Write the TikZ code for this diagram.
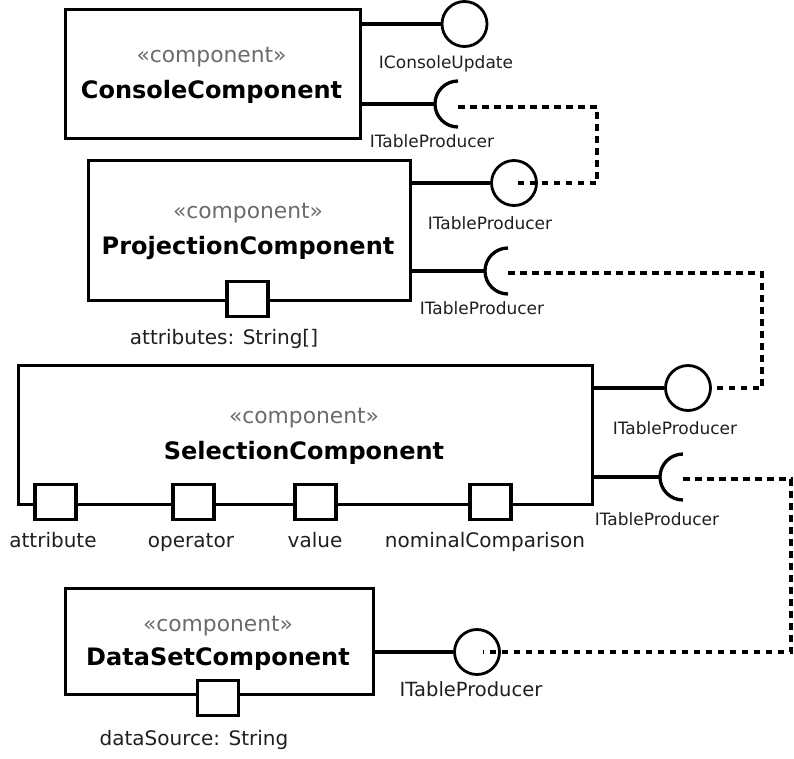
\documentclass[tikz,border=0pt]{standalone}
\usepackage{fontspec}
\setmainfont{DejaVu Sans}
\begin{document}
\begin{tikzpicture}[x=1pt,y=-1pt,
  comp/.style={draw,line width=3.3pt,rectangle,inner sep=0pt,anchor=north west},
  stereo/.style={anchor=base,inner sep=0pt,text=black!58,font=\fontsize{21.8}{26}\selectfont},
  cname/.style={anchor=base,inner sep=0pt,font=\fontsize{24}{28}\selectfont\bfseries},
  port/.style={draw,line width=3.3pt,fill=white,rectangle,minimum width=41pt,minimum height=35pt,inner sep=0pt},
  plabel/.style={anchor=base,inner sep=0pt,text=black!88,font=\fontsize{20}{24}\selectfont},
  ilabel/.style={anchor=base,inner sep=0pt,text=black!88,font=\fontsize{17}{20}\selectfont},
  biglabel/.style={anchor=base,inner sep=0pt,text=black!88,font=\fontsize{19.5}{23}\selectfont},
  lolli/.style={draw,line width=2.8pt,circle,minimum size=45pt,inner sep=0pt},
  conn/.style={line width=3.3pt},
  sock/.style={line width=3.3pt},
  dep/.style={line width=3.3pt,dash pattern=on 6.5pt off 5.5pt}
]
\useasboundingbox (0,0) rectangle (794,758);

% ConsoleComponent
\node[comp,minimum width=295pt,minimum height=129pt] (cc) at (64,8) {};
\node[stereo] (ccs) at (211.5,62) {«component»};
\node[cname] (ccn) at (211.5,98) {ConsoleComponent};

% ProjectionComponent
\node[comp,minimum width=322pt,minimum height=140pt] (pc) at (87,159) {};
\node[stereo] (pcs) at (248,218.5) {«component»};
\node[cname] (pcn) at (248,254.5) {ProjectionComponent};
\node[port] (pp) at (247.5,299) {};
\node[plabel] (ppl) at (224,344) {attributes: String[]};

% SelectionComponent
\node[comp,minimum width=574pt,minimum height=139pt] (sc) at (17,364) {};
\node[stereo] (scs) at (304,423) {«component»};
\node[cname] (scn) at (304,459) {SelectionComponent};
\node[port] (sp1) at (55.5,502) {};
\node[port] (sp2) at (193.5,502) {};
\node[port] (sp3) at (315.5,502) {};
\node[port] (sp4) at (490.5,502) {};
\node[plabel] (sp1l) at (53,547) {attribute};
\node[plabel] (sp2l) at (191,547) {operator};
\node[plabel] (sp3l) at (315,547) {value};
\node[plabel] (sp4l) at (485,547) {nominalComparison};

% DataSetComponent
\node[comp,minimum width=308pt,minimum height=106pt] (dc) at (64,587) {};
\node[stereo] (dcs) at (218,631) {«component»};
\node[cname] (dcn) at (218,665.5) {DataSetComponent};
\node[port] (dp) at (218,698) {};
\node[plabel] (dpl) at (194,745) {dataSource: String};

% Provided interfaces (lollipops)
\node[lolli] (l1) at (464.5,24) {};
\node[lolli] (l2) at (514,183) {};
\node[lolli] (l3) at (688,388) {};
\node[lolli] (l4) at (477,652) {};
\draw[conn] (cc.east |- l1) -- (l1.west);
\draw[conn] (pc.east |- l2) -- (l2.west);
\draw[conn] (sc.east |- l3) -- (l3.west);
\draw[conn] (dc.east |- l4) -- (l4.west);
\node[ilabel] (l1l) at (446,68) {IConsoleUpdate};
\node[ilabel] (l2l) at (490,229) {ITableProducer};
\node[ilabel] (l3l) at (675,434) {ITableProducer};
\node[biglabel] (l4l) at (471,696) {ITableProducer};

% Required interfaces (sockets)
\coordinate (s1) at (458,104);
\coordinate (s2) at (508,271);
\coordinate (s3) at (683,477);
\draw[sock] (s1) ++(0,-23) arc[start angle=-90,end angle=-270,radius=23];
\draw[sock] (s2) ++(0,-23) arc[start angle=-90,end angle=-270,radius=23];
\draw[sock] (s3) ++(0,-23) arc[start angle=-90,end angle=-270,radius=23];
\draw[conn] (cc.east |- s1) -- ([xshift=-23pt]s1);
\draw[conn] (pc.east |- s2) -- ([xshift=-23pt]s2);
\draw[conn] (sc.east |- s3) -- ([xshift=-23pt]s3);
\node[ilabel] (s1l) at (432,147) {ITableProducer};
\node[ilabel] (s2l) at (482,314) {ITableProducer};
\node[ilabel] (s3l) at (657,525) {ITableProducer};

% Dependencies
\coordinate (k1) at (597,0);
\coordinate (k2) at (762,0);
\coordinate (k3) at (791,0);
\draw[dep] ([yshift=-3pt]s1) -- ([yshift=-3pt]s1 -| k1) -- (k1 |- l2) -- (l2.center);
\draw[dep] ([yshift=-2pt]s2) -- ([yshift=-2pt]s2 -| k2) -- (k2 |- l3) -- (l3.east);
\draw[dep] ([yshift=-2pt]s3) -- ([yshift=-2pt]s3 -| k3) -- (k3 |- l4) -- ([xshift=6pt]l4.center);
\end{tikzpicture}
\end{document}
